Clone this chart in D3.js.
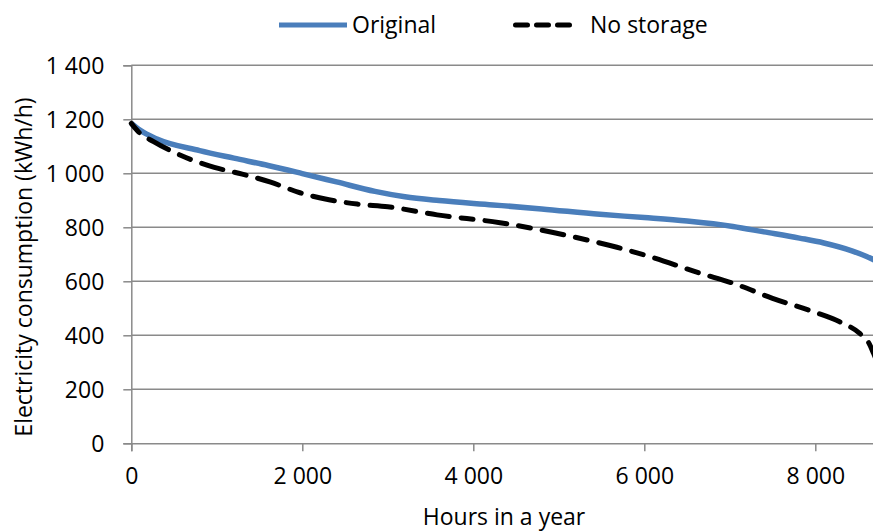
<!DOCTYPE html>
<html><head><meta charset="utf-8">
<script src="https://cdn.jsdelivr.net/npm/d3@7"></script>
<style>body{margin:0;background:#fff}svg{display:block}text{font-family:"Open Sans",sans-serif;fill:#000}</style>
</head><body><svg id="c" width="873" height="532"></svg>
<script>
const seriesNames = ["Original", "No storage"];
const originalHours = [0,100,300,800,1200,1600,2000,2400,2850,3200,3600,4230,4800,5480,6000,6500,7036,7400,7815,8100,8436,8600,8760];
const originalValues = [1185,1160,1127,1084,1056,1029,999,968,933,913,899,883,868,848,836,823,803,783,760,742,712,692,668];
const noStorageHours = [0,80,261,472,706,971,1298,1630,1973,2312,2643,3000,3577,4312,4745,5330,5680,6100,6650,7036,7500,7970,8285,8520,8620,8680,8760];
const noStorageValues = [1185,1155,1117,1082,1050,1022,997,967,928,902,886,876,846,817,793,753,726,688,630,593,537,488,450,407,375,334,270];
const xTicks = [0,2000,4000,6000,8000];
const yTicks = [0,200,400,600,800,1000,1200,1400];
const xTitle = "Hours in a year";
const yTitle = "Electricity consumption (kWh/h)";

const svg = d3.select("#c");
const FS = 23;
const x0 = 131.3, y0 = 443.3;
const x = d3.scaleLinear().domain([0,8760]).range([x0, x0 + 8760*171/2000]);
const y = d3.scaleLinear().domain([0,1400]).range([y0, y0-378]);
const fmt = v => d3.format(",")(v).replace(/,/g, " ");
const grid = "#8a8a8a";

svg.append("g").selectAll("line").data(yTicks.slice(1)).join("line")
  .attr("x1", x0).attr("x2", 873).attr("y1", d=>y(d)).attr("y2", d=>y(d))
  .attr("stroke", grid).attr("stroke-width", 1.5);

const yAxis = svg.append("g").attr("transform", `translate(${x0},0)`)
  .call(d3.axisLeft(y).tickValues(yTicks).tickFormat(fmt).tickSize(8).tickPadding(19));
yAxis.select(".domain").attr("stroke", grid).attr("stroke-width", 1.5);
yAxis.selectAll(".tick line").attr("stroke", grid).attr("stroke-width", 1.5);
yAxis.selectAll("text").attr("font-size", FS).attr("font-family", "Open Sans").attr("dy", "0.36em");

const xAxis = svg.append("g").attr("transform", `translate(0,${y0})`)
  .call(d3.axisBottom(x).tickValues(xTicks).tickFormat(fmt).tickSize(8).tickPadding(16));
xAxis.select(".domain").attr("stroke", grid).attr("stroke-width", 1.5);
xAxis.selectAll(".tick line").attr("stroke", grid).attr("stroke-width", 1.5);
xAxis.selectAll("text").attr("font-size", FS).attr("font-family", "Open Sans");

const line = d3.line().x(d=>x(d[0])).y(d=>y(d[1])).curve(d3.curveMonotoneX);
const origData = originalHours.map((h,i)=>[h, originalValues[i]]);
const nsData = noStorageHours.map((h,i)=>[h, noStorageValues[i]]);

svg.append("path").datum(origData).attr("d", line).attr("fill","none")
  .attr("stroke","#4a7ebb").attr("stroke-width",5.5);
svg.append("path").datum(nsData).attr("d", line).attr("fill","none")
  .attr("stroke","#000").attr("stroke-width",5).attr("stroke-dasharray","12,12,22,12").attr("stroke-linecap","round");

svg.append("text").attr("x", 504).attr("y", 525).attr("text-anchor","middle").attr("font-size",FS).text(xTitle);
svg.append("text").attr("transform","translate(32,267) rotate(-90)").attr("text-anchor","middle").attr("font-size",FS).text(yTitle);

// legend
const lg = svg.append("g");
lg.append("line").attr("x1",279).attr("x2",347).attr("y1",25).attr("y2",25).attr("stroke","#4a7ebb").attr("stroke-width",5);
lg.append("text").attr("x",352).attr("y",33).attr("font-size",FS).text(seriesNames[0]);
lg.append("line").attr("x1",515.5).attr("x2",573).attr("y1",25).attr("y2",25).attr("stroke","#000").attr("stroke-width",5).attr("stroke-dasharray","12,9").attr("stroke-linecap","round");
lg.append("text").attr("x",590).attr("y",33).attr("font-size",FS).text(seriesNames[1]);
</script></body></html>
